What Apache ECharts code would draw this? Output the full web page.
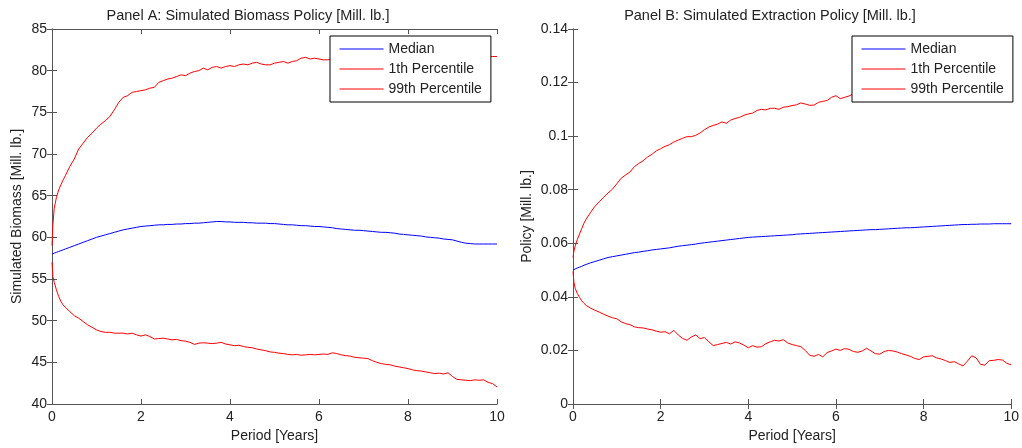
<!DOCTYPE html>
<html>
<head>
<meta charset="utf-8">
<script src="https://cdn.jsdelivr.net/npm/echarts@6.0.0/dist/echarts.min.js"></script>
<style>
  html, body { margin: 0; padding: 0; background: #fff; }
  #chart { width: 1022px; height: 448px; }
</style>
</head>
<body>
<div id="chart"></div>
<script>
// period in years (finer steps at the start, where the bands open up fast)
const periods = [0, 0.02, 0.05, 0.1, 0.15, 0.2, 0.25, 0.3,
  0.4, 0.5, 0.6, 0.7, 0.8, 0.9, 1.0, 1.1, 1.2, 1.3,
  1.4, 1.5, 1.6, 1.7, 1.8, 1.9, 2.0, 2.1, 2.2, 2.3,
  2.4, 2.5, 2.6, 2.7, 2.8, 2.9, 3.0, 3.1, 3.2, 3.3,
  3.4, 3.5, 3.6, 3.7, 3.8, 3.9, 4.0, 4.1, 4.2, 4.3,
  4.4, 4.5, 4.6, 4.7, 4.8, 4.9, 5.0, 5.1, 5.2, 5.3,
  5.4, 5.5, 5.6, 5.7, 5.8, 5.9, 6.0, 6.1, 6.2, 6.3,
  6.4, 6.5, 6.6, 6.7, 6.8, 6.9, 7.0, 7.1, 7.2, 7.3,
  7.4, 7.5, 7.6, 7.7, 7.8, 7.9, 8.0, 8.1, 8.2, 8.3,
  8.4, 8.5, 8.6, 8.7, 8.8, 8.9, 9.0, 9.1, 9.2, 9.3,
  9.4, 9.5, 9.6, 9.7, 9.8, 9.9, 10.0]

// Panel A: biomass
const bioMedian = [58.0, 58.05, 58.1, 58.2, 58.3, 58.4, 58.5, 58.6,
  58.8, 59.0, 59.2, 59.4, 59.6, 59.8, 60.0, 60.15, 60.3, 60.45,
  60.6, 60.75, 60.9, 61.0, 61.1, 61.2, 61.3, 61.35, 61.4, 61.45,
  61.5, 61.5, 61.55, 61.55, 61.6, 61.6, 61.65, 61.65, 61.7, 61.7,
  61.75, 61.8, 61.85, 61.9, 61.9, 61.85, 61.85, 61.8, 61.8, 61.8,
  61.75, 61.75, 61.7, 61.7, 61.7, 61.65, 61.65, 61.6, 61.55, 61.5,
  61.5, 61.45, 61.4, 61.4, 61.35, 61.3, 61.3, 61.25, 61.2, 61.15,
  61.05, 61.0, 60.95, 60.9, 60.85, 60.85, 60.8, 60.75, 60.7, 60.65,
  60.6, 60.6, 60.55, 60.5, 60.4, 60.35, 60.3, 60.25, 60.2, 60.15,
  60.05, 60.0, 59.95, 59.9, 59.8, 59.75, 59.7, 59.55, 59.4, 59.3,
  59.25, 59.2, 59.2, 59.2, 59.2, 59.2, 59.2]
const bioP1 = [57.0, 55.3, 54.6, 53.7, 52.9, 52.3, 51.9, 51.6,
  51.1, 50.6, 50.3, 49.9, 49.5, 49.2, 48.9, 48.7, 48.6, 48.6,
  48.5, 48.5, 48.5, 48.4, 48.5, 48.3, 48.15, 48.3, 48.1, 47.8,
  47.85, 47.9, 47.8, 47.7, 47.75, 47.6, 47.55, 47.4, 47.15, 47.3,
  47.35, 47.3, 47.25, 47.3, 47.4, 47.2, 47.1, 47.0, 47.05, 46.9,
  46.8, 46.75, 46.6, 46.5, 46.4, 46.25, 46.2, 46.1, 46.05, 45.95,
  45.9, 45.95, 45.85, 45.9, 45.95, 45.9, 45.95, 46.0, 45.95, 46.15,
  46.05, 45.9, 45.8, 45.75, 45.6, 45.55, 45.5, 45.45, 45.2, 45.0,
  44.85, 44.75, 44.7, 44.55, 44.45, 44.35, 44.25, 44.1, 44.0, 43.95,
  43.85, 43.75, 43.65, 43.7, 43.6, 43.75, 43.3, 42.95, 42.9, 42.85,
  42.8, 42.9, 42.85, 42.9, 42.6, 42.45, 42.05]
const bioP99 = [59.0, 61.5, 63.5, 64.8, 65.7, 66.3, 66.9, 67.4,
  68.5, 69.4, 70.6, 71.3, 72.0, 72.5, 73.1, 73.6, 74.0, 74.5,
  75.3, 76.2, 76.8, 77.0, 77.4, 77.5, 77.6, 77.7, 77.9, 78.0,
  78.6, 78.8, 79.0, 79.1, 79.3, 79.5, 79.4, 79.7, 79.9, 80.0,
  80.3, 80.1, 80.4, 80.5, 80.3, 80.5, 80.6, 80.5, 80.7, 80.8,
  80.7, 80.9, 81.0, 80.8, 80.7, 80.7, 80.9, 81.0, 81.1, 80.9,
  81.1, 81.2, 81.5, 81.6, 81.4, 81.5, 81.4, 81.3, 81.3, 81.4,
  81.2, 81.3, 81.5, 81.4, 81.6, 81.5, 81.4, 81.6, 81.7, 81.5,
  81.6, 81.8, 81.6, 81.5, 81.7, 81.8, 81.6, 81.7, 81.9, 81.7,
  81.6, 81.8, 81.7, 81.9, 81.8, 81.6, 81.7, 81.8, 81.6, 81.7,
  81.9, 81.7, 81.8, 81.6, 81.7, 81.7, 81.7]

// Panel B: extraction policy
const polMedian = [0.0501, 0.0502, 0.0504, 0.0508, 0.0511, 0.0514, 0.0518, 0.0521,
  0.0527, 0.0532, 0.0537, 0.0542, 0.0547, 0.0550, 0.0553, 0.0556, 0.0559, 0.0562,
  0.0565, 0.0567, 0.0570, 0.0572, 0.0575, 0.0577, 0.0579, 0.0581, 0.0583, 0.0586,
  0.0589, 0.0591, 0.0593, 0.0595, 0.0597, 0.0600, 0.0602, 0.0604, 0.0606, 0.0608,
  0.0610, 0.0612, 0.0614, 0.0616, 0.0618, 0.0620, 0.0622, 0.0623, 0.0624, 0.0625,
  0.0626, 0.0627, 0.0628, 0.0629, 0.0630, 0.0631, 0.0632, 0.0634, 0.0635, 0.0636,
  0.0637, 0.0638, 0.0639, 0.0640, 0.0641, 0.0642, 0.0643, 0.0644, 0.0645, 0.0646,
  0.0647, 0.0648, 0.0649, 0.0650, 0.0651, 0.0651, 0.0652, 0.0653, 0.0654, 0.0655,
  0.0656, 0.0657, 0.0658, 0.0658, 0.0659, 0.0660, 0.0661, 0.0662, 0.0663, 0.0664,
  0.0665, 0.0666, 0.0667, 0.0668, 0.0669, 0.0670, 0.0670, 0.0671, 0.0671, 0.0672,
  0.0672, 0.0672, 0.0673, 0.0673, 0.0673, 0.0673, 0.0673]
const polP1 = [0.0495, 0.0455, 0.0432, 0.0412, 0.0398, 0.0385, 0.0376, 0.0368,
  0.0358, 0.0350, 0.0343, 0.0335, 0.0328, 0.0322, 0.0318, 0.0307, 0.0300, 0.0296,
  0.0288, 0.0285, 0.0284, 0.0280, 0.0277, 0.0272, 0.0268, 0.0270, 0.0262, 0.0275,
  0.0258, 0.0245, 0.0238, 0.0250, 0.0258, 0.0244, 0.0248, 0.0232, 0.0218, 0.0222,
  0.0226, 0.0230, 0.0224, 0.0232, 0.0228, 0.0220, 0.0210, 0.0218, 0.0212, 0.0214,
  0.0225, 0.0232, 0.0238, 0.0235, 0.0240, 0.0228, 0.0222, 0.0218, 0.0214, 0.0200,
  0.0182, 0.0178, 0.0185, 0.0176, 0.0192, 0.0198, 0.0205, 0.0200, 0.0207, 0.0204,
  0.0196, 0.0193, 0.0198, 0.0208, 0.0198, 0.0188, 0.0186, 0.0196, 0.0200, 0.0198,
  0.0194, 0.0188, 0.0183, 0.0178, 0.0170, 0.0166, 0.0176, 0.0178, 0.0180, 0.0172,
  0.0168, 0.0162, 0.0155, 0.0158, 0.0150, 0.0142, 0.0160, 0.0180, 0.0172, 0.0148,
  0.0145, 0.0162, 0.0163, 0.0166, 0.0164, 0.0152, 0.0146]
const polP99 = [0.0547, 0.0570, 0.0590, 0.0615, 0.0635, 0.0655, 0.0675, 0.0690,
  0.0715, 0.0738, 0.0755, 0.0772, 0.0788, 0.0802, 0.0822, 0.0843, 0.0855, 0.0866,
  0.0886, 0.0898, 0.0908, 0.0922, 0.0932, 0.0945, 0.0953, 0.0962, 0.0968, 0.0978,
  0.0985, 0.0992, 0.0998, 0.0998, 0.1003, 0.1012, 0.1024, 0.1034, 0.1040, 0.1045,
  0.1053, 0.1048, 0.1060, 0.1066, 0.1070, 0.1078, 0.1083, 0.1086, 0.1096, 0.1100,
  0.1098, 0.1104, 0.1104, 0.1100, 0.1108, 0.1110, 0.1114, 0.1117, 0.1124, 0.1120,
  0.1115, 0.1116, 0.1126, 0.1130, 0.1133, 0.1145, 0.1151, 0.1140, 0.1145, 0.1150,
  0.1158, 0.1162, 0.1168, 0.1172, 0.1178, 0.1182, 0.1186, 0.1190, 0.1196, 0.1198,
  0.1203, 0.1208, 0.1210, 0.1216, 0.1220, 0.1222, 0.1226, 0.1230, 0.1233, 0.1236,
  0.1240, 0.1242, 0.1246, 0.1248, 0.1252, 0.1254, 0.1257, 0.1260, 0.1262, 0.1264,
  0.1266, 0.1268, 0.1270, 0.1272, 0.1276, 0.1268, 0.1276]

const legendNames = ['Median', '1th Percentile', '99th Percentile']

const font = 'Liberation Sans, Arial, sans-serif'
const axisColor = '#555'
const textColor = '#222'

function pairs (values) {
  return periods.map((t, i) => [t, values[i]])
}

function xAxes (grid, name) {
  return [{
    gridIndex: grid,
    type: 'value',
    min: 0,
    max: 10,
    interval: 2,
    position: 'bottom',
    name: name,
    nameLocation: 'middle',
    nameGap: 25,
    nameTextStyle: { color: textColor, fontSize: 14, fontFamily: font },
    axisLine: { lineStyle: { color: axisColor } },
    axisTick: { inside: true, length: 5, lineStyle: { color: axisColor } },
    axisLabel: { color: textColor, fontSize: 14, fontFamily: font, margin: 6 },
    splitLine: { show: false }
  }, {
    gridIndex: grid,
    type: 'value',
    min: 0,
    max: 10,
    interval: 2,
    position: 'top',
    axisLine: { lineStyle: { color: axisColor } },
    axisTick: { inside: true, length: 5, lineStyle: { color: axisColor } },
    axisLabel: { show: false },
    splitLine: { show: false }
  }]
}

function yAxes (grid, name, min, max, interval, gap) {
  return [{
    gridIndex: grid,
    type: 'value',
    min: min,
    max: max,
    interval: interval,
    position: 'left',
    name: name,
    nameLocation: 'middle',
    nameGap: gap,
    nameTextStyle: { color: textColor, fontSize: 14, fontFamily: font },
    axisLine: { show: true, lineStyle: { color: axisColor } },
    axisTick: { show: true, inside: true, length: 5, lineStyle: { color: axisColor } },
    axisLabel: { color: textColor, fontSize: 14, fontFamily: font, margin: 5 },
    splitLine: { show: false }
  }, {
    gridIndex: grid,
    type: 'value',
    min: min,
    max: max,
    interval: interval,
    position: 'right',
    axisLine: { show: true, lineStyle: { color: axisColor } },
    axisTick: { show: true, inside: true, length: 5, lineStyle: { color: axisColor } },
    axisLabel: { show: false },
    splitLine: { show: false }
  }]
}

function line (name, color, values, axis) {
  return {
    name: name,
    type: 'line',
    xAxisIndex: axis,
    yAxisIndex: axis,
    symbol: 'none',
    animation: false,
    lineStyle: { color: color, width: 1 },
    itemStyle: { color: color },
    data: pairs(values)
  }
}

function legend (left) {
  return {
    data: legendNames,
    orient: 'vertical',
    left: left,
    top: 36,
    padding: [6, 9, 6, 9],
    itemWidth: 44,
    itemHeight: 14,
    itemGap: 6,
    backgroundColor: '#fff',
    borderColor: '#000',
    borderWidth: 1,
    borderRadius: 0,
    selectedMode: false,
    // only the line sample, no marker dot
    itemStyle: { color: 'transparent', borderWidth: 0, opacity: 0 },
    lineStyle: { width: 1 },
    textStyle: { color: textColor, fontSize: 14, fontFamily: font }
  }
}

const option = {
  backgroundColor: '#fff',
  animation: false,
  title: [{
    text: 'Panel A: Simulated Biomass Policy [Mill. lb.]',
    left: 243,
    top: 3,
    textAlign: 'center',
    textStyle: { color: textColor, fontSize: 14.5, fontWeight: 'normal', fontFamily: font }
  }, {
    text: 'Panel B: Simulated Extraction Policy [Mill. lb.]',
    left: 765,
    top: 3,
    textAlign: 'center',
    textStyle: { color: textColor, fontSize: 14.5, fontWeight: 'normal', fontFamily: font }
  }],
  legend: [legend(330), legend(852)],
  grid: [
    { left: 52, top: 29, width: 445, height: 376, show: false },
    { left: 573, top: 29, width: 444, height: 376, show: false }
  ],
  xAxis: xAxes(0, 'Period [Years]').concat(xAxes(1, 'Period [Years]')),
  yAxis: yAxes(0, 'Simulated Biomass [Mill. lb.]', 40, 85, 5, 28)
    .concat(yAxes(1, 'Policy [Mill. lb.]', 0, 0.14, 0.02, 39)),
  series: [
    line('Median', '#0000ff', bioMedian, 0),
    line('1th Percentile', '#ff0000', bioP1, 0),
    line('99th Percentile', '#ff0000', bioP99, 0),
    line('Median', '#0000ff', polMedian, 2),
    line('1th Percentile', '#ff0000', polP1, 2),
    line('99th Percentile', '#ff0000', polP99, 2)
  ]
}

const chart = echarts.init(document.getElementById('chart'))
chart.setOption(option)
</script>
</body>
</html>
